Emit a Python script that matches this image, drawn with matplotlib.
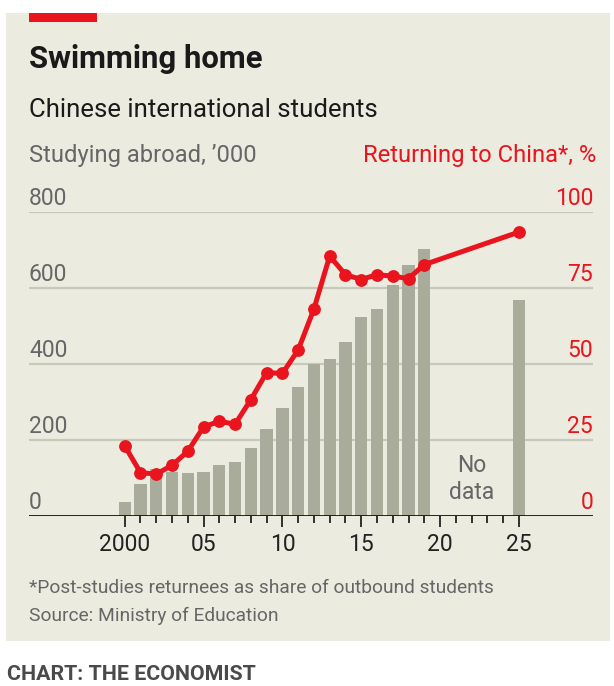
import matplotlib
matplotlib.use("Agg")
import matplotlib.pyplot as plt
from matplotlib.patches import Rectangle
import matplotlib.transforms as mtransforms

# ---- data ----
years = [2000, 2001, 2002, 2003, 2004, 2005, 2006, 2007, 2008, 2009,
         2010, 2011, 2012, 2013, 2014, 2015, 2016, 2017, 2018, 2019, 2025]
studying_abroad = [39, 84, 125, 117, 115, 118, 134, 144, 180, 229,
                   285, 340, 400, 414, 460, 524, 545, 608, 662, 704, 568]
returning_pct = [23.2, 14.4, 13.9, 16.8, 21.4, 29.4, 31.3, 30.3, 38.4, 47.3,
                 47.0, 54.7, 68.2, 85.6, 79.5, 77.9, 79.5, 79.0, 78.2, 82.8, 93.5]
left_ticks = [0, 200, 400, 600, 800]
right_ticks = [0, 25, 50, 75, 100]
x_major = [2000, 2005, 2010, 2015, 2020, 2025]
x_major_labels = ["2000", "05", "10", "15", "20", "25"]

# ---- fonts ----
FONT = "Roboto"
plt.rcParams["font.family"] = [FONT, "DejaVu Sans"]

RED = "#E9141D"
BG = "#ECEBDF"
BAR = "#A9AB9B"
GRID = "#C8C8BB"
GREY = "#666666"

W, H = 614, 686
fig = plt.figure(figsize=(W / 100, H / 100), dpi=100)
fig.patch.set_facecolor("white")

def fx(px):
    return px / W

def fy(py):
    return 1 - py / H

# panel background
fig.patches.append(Rectangle((fx(6), fy(641)), fx(604), (641 - 13) / H,
                             transform=fig.transFigure, facecolor=BG,
                             edgecolor="none", zorder=-10))
# red tag
fig.patches.append(Rectangle((fx(29), fy(22)), fx(68), 9 / H,
                             transform=fig.transFigure, facecolor=RED,
                             edgecolor="none", zorder=-5))

# axes
ax_left, ax_right = 29, 593
ax_top, ax_bot = 212.3, 516.4
ax = fig.add_axes([fx(ax_left), fy(ax_bot), fx(ax_right - ax_left), (ax_bot - ax_top) / H])
ax.set_facecolor("none")
ax.set_xlim(1993.93, 2029.7)
ax.set_ylim(0, 800)
for s in ax.spines.values():
    s.set_visible(False)

# gridlines
for v in left_ticks[1:]:
    ax.axhline(v, color=GRID, lw=1.6, zorder=1)
ax.axhline(0, color="#111111", lw=2.0, zorder=4)

# bars
ax.bar(years, studying_abroad, width=0.78, color=BAR, zorder=2)

# ticks
ax.set_yticks([])
ax.set_xticks(x_major)
ax.set_xticklabels(x_major_labels)
ax.set_xticks(list(range(2000, 2026)), minor=True)
ax.tick_params(axis="x", which="major", length=8, width=1.2, color="#111111",
               labelsize=16.5, labelcolor="#222222", pad=4)
ax.tick_params(axis="x", which="minor", length=5, width=1.2, color="#111111")

# left tick labels above gridlines
trans_l = mtransforms.blended_transform_factory(ax.transAxes, ax.transData)
for v in left_ticks:
    ax.annotate(str(v), xy=(0, v), xycoords=trans_l, xytext=(0, 5),
                textcoords="offset points", ha="left", va="baseline",
                fontsize=16.5, color=GREY)

# right axis
ax2 = ax.twinx()
ax2.set_ylim(0, 100)
ax2.set_yticks([])
for s in ax2.spines.values():
    s.set_visible(False)
trans_r = mtransforms.blended_transform_factory(ax2.transAxes, ax2.transData)
for v in right_ticks:
    ax2.annotate(str(v), xy=(1, v), xycoords=trans_r, xytext=(0, 5),
                 textcoords="offset points", ha="right", va="baseline",
                 fontsize=16.5, color=RED)

ax2.plot(years, returning_pct, color=RED, lw=3.6, marker="o", markersize=8.2,
         zorder=5, clip_on=False, solid_joinstyle="round")

ax.text(2022, 98, "No\ndata", ha="center", va="center", fontsize=16.5,
        color=GREY, linespacing=1.2, zorder=3)

# titles
fig.text(fx(29), fy(68), "Swimming home", fontsize=22.4, fontweight="bold",
         color="#1a1a1a", va="baseline", ha="left")
fig.text(fx(29), fy(117), "Chinese international students", fontsize=18.5,
         color="#1a1a1a", va="baseline", ha="left")
fig.text(fx(29), fy(162), "Studying abroad, \u2019000", fontsize=17.1,
         color=GREY, va="baseline", ha="left")
fig.text(fx(596), fy(162), "Returning to China*, %", fontsize=17.1,
         color=RED, va="baseline", ha="right")

fig.text(fx(29), fy(593), "*Post-studies returnees as share of outbound students",
         fontsize=13.8, color=GREY, va="baseline", ha="left")
fig.text(fx(29), fy(621), "Source: Ministry of Education",
         fontsize=13.8, color=GREY, va="baseline", ha="left")
fig.text(fx(7), fy(680), "CHART: THE ECONOMIST", fontsize=15.4, fontweight="bold",
         color="#4a4a4a", va="baseline", ha="left")

fig.savefig("out.png", dpi=100, facecolor=fig.get_facecolor())
